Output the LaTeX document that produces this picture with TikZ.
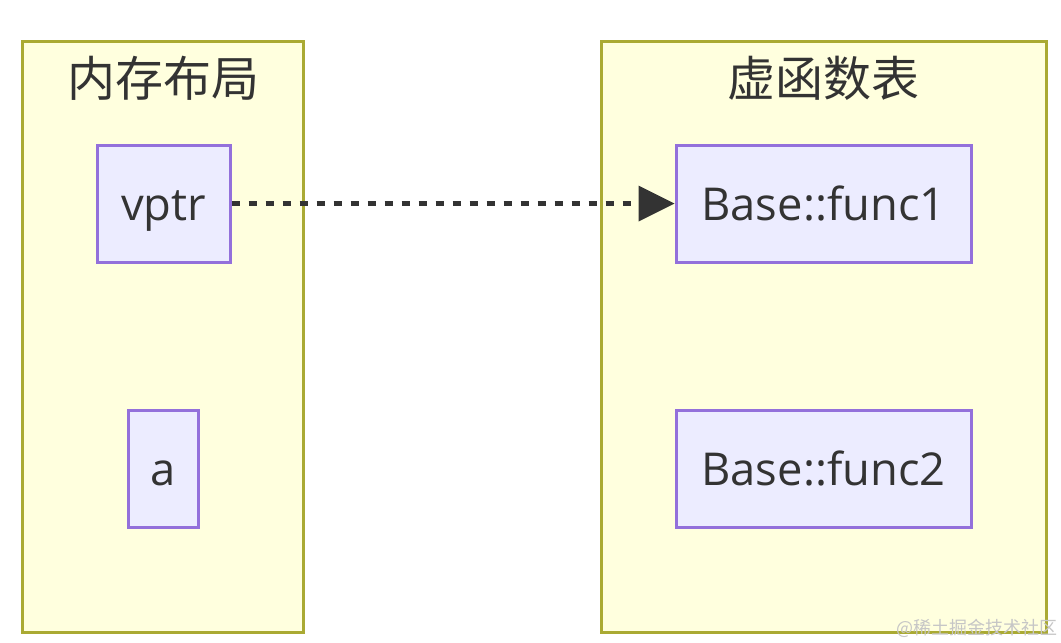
\documentclass[tikz,border=0pt]{standalone}
\usepackage{fontspec}
\setmainfont{Open Sans}
\newfontfamily\cjk{Noto Sans CJK SC}
\usetikzlibrary{arrows.meta}
\definecolor{clfill}{HTML}{FFFFDE}
\definecolor{cldraw}{HTML}{AAAA33}
\definecolor{ndfill}{HTML}{ECECFF}
\definecolor{nddraw}{HTML}{9370DB}
\definecolor{txt}{HTML}{333333}
\tikzset{
  cluster/.style={draw=cldraw,fill=clfill,line width=3pt},
  box/.style={draw=nddraw,fill=ndfill,line width=3pt,text=txt,
    font=\fontsize{45.3}{48}\selectfont,inner sep=0pt,
    text height=33pt,text depth=0pt},
  title/.style={text=txt,font=\cjk\fontsize{48}{52}\selectfont},
}
\begin{document}
\begin{tikzpicture}[x=1pt,y=-1pt]
  \useasboundingbox (0,0) rectangle (1061,643);

  % clusters
  \draw[cluster] (22,41) rectangle (303,632);
  \draw[cluster] (601,41) rectangle (1046,632);
  \node[title] (memt) at (163,78) {内存布局};
  \node[title] (vtblt) at (823.5,78) {虚函数表};

  % nodes
  \node[box,minimum width=133pt,minimum height=117pt] (vptr) at (163.5,203.5) {vptr};
  \node[box,minimum width=70pt,minimum height=117pt] (a) at (163,468.5) {a};
  \node[box,minimum width=295pt,minimum height=117pt] (f1) at (823.5,203.5) {Base::func1};
  \node[box,minimum width=295pt,minimum height=117pt] (f2) at (823.5,468.5) {Base::func2};

  \draw[txt,line width=5pt,dash pattern=on 8pt off 9pt,
    -{Triangle[length=36pt,width=36pt,line width=0pt]}] (vptr) -- (f1);

  \node[anchor=south east,inner sep=0pt,text=gray!45,font=\cjk\fontsize{18}{20}\selectfont]
    (mark) at (1058,638) {@稀土掘金技术社区};
\end{tikzpicture}
\end{document}
